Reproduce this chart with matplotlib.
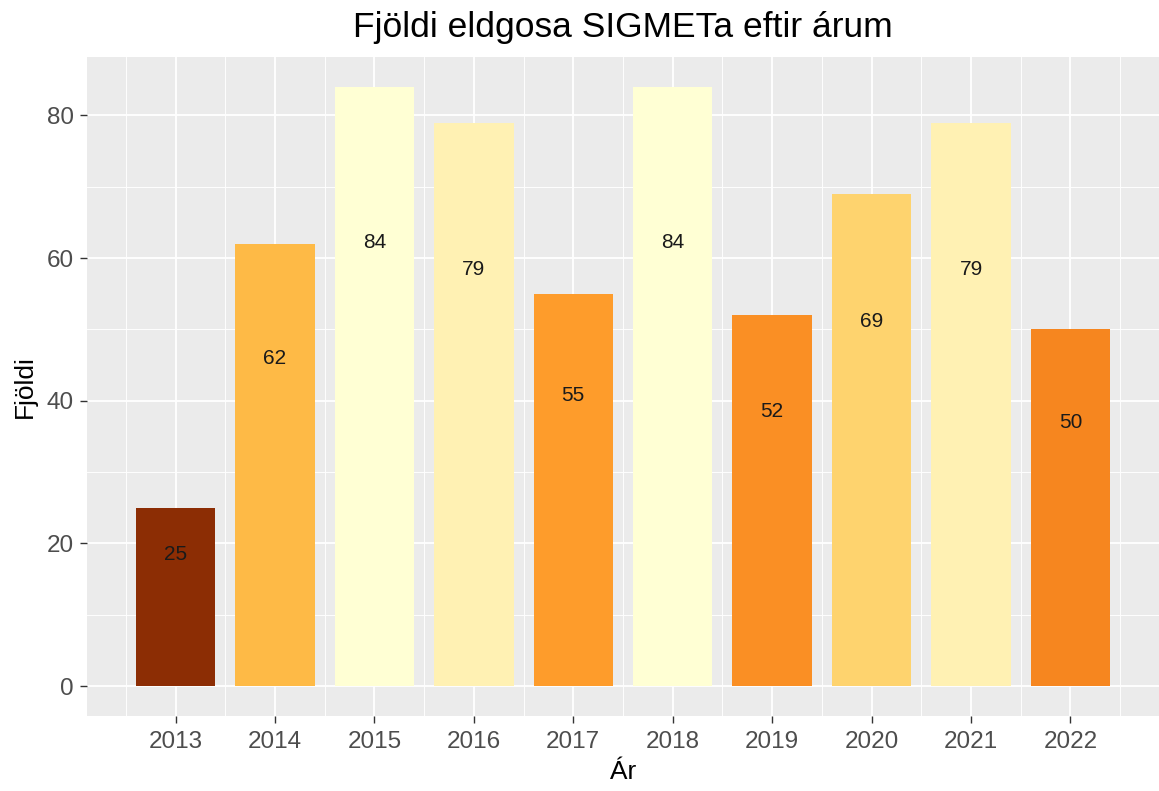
import matplotlib
matplotlib.use("Agg")
import matplotlib.pyplot as plt
from matplotlib.colors import LinearSegmentedColormap, Normalize
from matplotlib.ticker import MultipleLocator

years = [2013, 2014, 2015, 2016, 2017, 2018, 2019, 2020, 2021, 2022]
counts = [25, 62, 84, 79, 55, 84, 52, 69, 79, 50]
title = "Fjöldi eldgosa SIGMETa eftir árum"
xlabel = "Ár"
ylabel = "Fjöldi"

palette = ["#8C2D04", "#CC4C02", "#EC7014", "#FE9929", "#FEC44F", "#FEE391", "#FFFFD4"]
cmap = LinearSegmentedColormap.from_list("ylorbr_r", palette)
norm = Normalize(vmin=min(counts), vmax=max(counts))

plt.rcParams['font.family'] = ['Liberation Sans', 'DejaVu Sans']

fig = plt.figure(figsize=(11.59, 7.91), dpi=100)
ax = fig.add_axes([87/1159, 1 - 716/791, 1 - 87/1159, (716 - 57)/791])
ax.set_facecolor("#EBEBEB")

ax.bar(years, counts, width=0.8, color=[cmap(norm(v)) for v in counts], zorder=3)
for x, v in zip(years, counts):
    ax.text(x, v * 0.74, str(v), ha="center", va="center", fontsize=15, color="#1a1a1a", zorder=4)

ax.set_xlim(2012.11, 2022.89)
ax.set_ylim(-4.2, 88.2)
ax.set_xticks(years)
ax.set_xticklabels([str(y) for y in years])
ax.yaxis.set_major_locator(MultipleLocator(20))
ax.yaxis.set_minor_locator(MultipleLocator(10))
ax.xaxis.set_minor_locator(MultipleLocator(0.5))

ax.grid(which="major", color="white", linewidth=1.3, zorder=0)
ax.grid(which="minor", color="white", linewidth=0.65, zorder=0)
ax.set_axisbelow(True)
for s in ax.spines.values():
    s.set_visible(False)
ax.tick_params(which="major", length=5, width=1, color="#333333", labelcolor="#4D4D4D", labelsize=17.5, pad=4.5)
ax.tick_params(axis="x", which="major", pad=6)
ax.tick_params(which="minor", length=0)

ax.set_xlabel(xlabel, fontsize=19, color="black", labelpad=5)
ax.set_ylabel(ylabel, fontsize=19, color="black", labelpad=7)
fig.suptitle(title, fontsize=25.5, x=0.537, y=0.986, va="top")

fig.savefig("out.png", dpi=100)
